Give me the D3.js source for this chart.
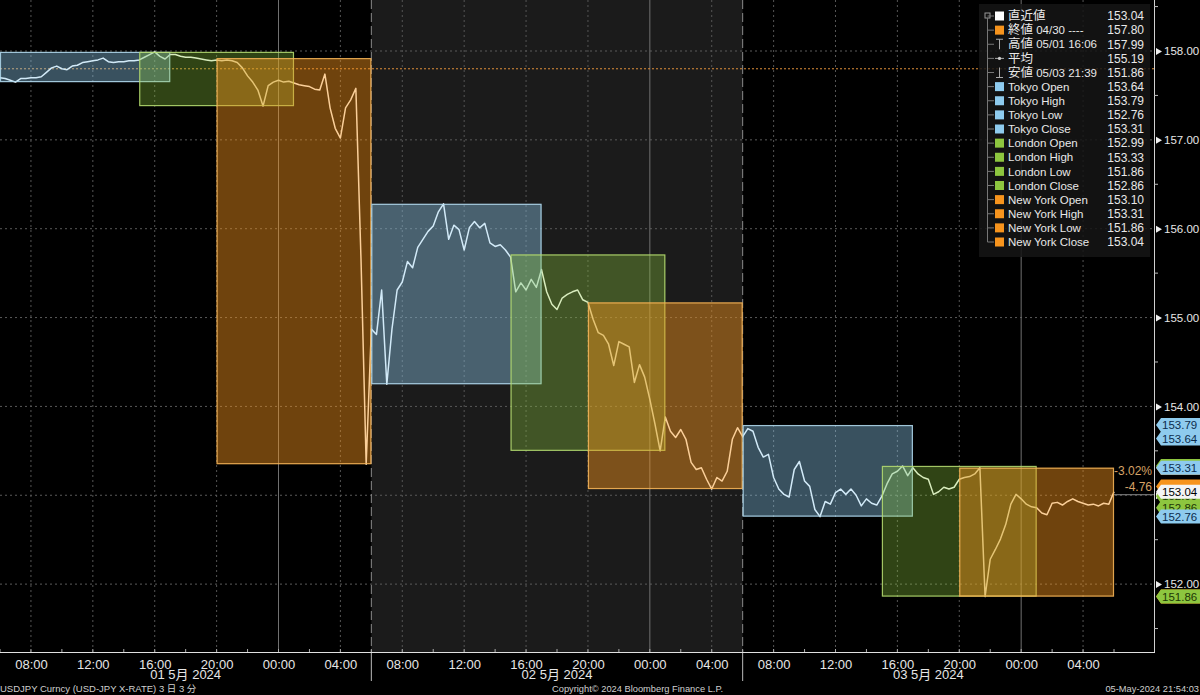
<!DOCTYPE html>
<html><head><meta charset="utf-8">
<script src="https://cdn.jsdelivr.net/npm/d3@7"></script>
<style>
html,body{margin:0;padding:0;background:#000;}
svg{display:block;}
text{font-family:"Liberation Sans",Arial,"Noto Sans CJK JP",sans-serif;}
</style></head><body>
<svg id="c" width="1200" height="695"></svg>
<script>
// ---------------- DATA ----------------
const startTime = Date.UTC(2024, 4, 1, 6, 0);   // 01 May 2024 06:00 (Tokyo)
const stepMinutes = 20;
const prices = [
157.70,157.69,157.67,157.65,157.69,157.69,157.70,157.70,157.71,157.76,
157.81,157.83,157.80,157.79,157.83,157.84,157.87,157.88,157.89,157.90,
157.92,157.88,157.87,157.88,157.88,157.89,157.89,157.90,157.93,157.96,
157.99,157.94,157.91,157.96,157.96,157.94,157.93,157.93,157.92,157.91,
157.90,157.89,157.90,157.89,157.90,157.89,157.87,157.81,157.72,157.65,
157.56,157.38,157.61,157.65,157.67,157.65,157.66,157.64,157.62,157.61,
157.60,157.57,157.56,157.74,157.36,157.13,157.02,157.36,157.45,157.58,
155.65,153.35,
154.87,154.81,155.31,154.25,154.87,155.31,155.40,155.63,155.56,155.79,
155.88,155.97,156.03,156.19,156.28,155.88,156.04,155.99,155.76,156.01,
156.08,156.01,156.06,155.84,155.80,155.82,155.76,155.68,155.29,155.39,
155.31,155.43,155.34,155.54,155.29,155.15,155.09,155.22,155.26,155.29,
155.31,155.20,155.17,154.98,154.83,154.80,154.70,154.46,154.73,154.70,
154.67,154.27,154.47,154.33,154.08,153.80,153.50,153.88,153.72,153.65,
153.74,153.63,153.37,153.29,153.31,153.18,153.07,153.20,153.16,153.27,
153.63,153.76,
153.66,153.75,153.72,153.54,153.43,153.46,153.20,153.07,153.01,152.98,
153.29,153.38,153.16,153.10,152.84,152.76,152.93,152.90,153.03,153.07,
153.01,153.07,153.00,152.88,152.96,152.91,152.89,152.99,153.13,153.24,
153.27,153.33,153.22,153.31,153.24,153.20,153.18,153.01,153.04,153.09,
153.07,153.09,153.18,153.20,153.21,153.24,153.31,151.86,152.28,152.39,
152.51,152.67,152.90,153.01,152.96,152.90,152.87,152.86,152.80,152.78,
152.91,152.92,152.89,152.93,152.96,152.93,152.91,152.89,152.90,152.88,
152.91,152.90,153.04
];
const dayStarts = [Date.UTC(2024,4,1,6), Date.UTC(2024,4,2,6), Date.UTC(2024,4,3,6)];
const dayLabels = ["01 5月 2024", "02 5月 2024", "03 5月 2024"];
const sessionNames = ["Tokyo", "London", "New York"];
const sessionStartHour = [0, 9, 14];   // hours after 06:00 of the session day
const sessionEndHour   = [11, 19, 24];
const tokyoHigh  = [157.99, 156.28, 153.79];
const tokyoLow   = [157.65, 154.25, 152.76];
const londonHigh = [157.99, 155.71, 153.33];
const londonLow  = [157.38, 153.50, 151.86];
const nyHigh     = [157.92, 155.17, 153.31];
const nyLow      = [153.35, 153.07, 151.86];
const prevClose = 157.80;
const lastValue = 153.04;
const yMajorTicks = [152, 153, 154, 155, 156, 157, 158];
const yMinorTicks = [151.5, 152.5, 153.5, 154.5, 155.5, 156.5, 157.5, 158.5];
const legendLabels = ["直近値", "終値 04/30 ----", "高値 05/01 16:06", "平均", "安値 05/03 21:39",
  "Tokyo Open", "Tokyo High", "Tokyo Low", "Tokyo Close",
  "London Open", "London High", "London Low", "London Close",
  "New York Open", "New York High", "New York Low", "New York Close"];
const legendValues = [153.04, 157.80, 157.99, 155.19, 151.86,
  153.64, 153.79, 152.76, 153.31,
  152.99, 153.33, 151.86, 152.86,
  153.10, 153.31, 151.86, 153.04];
const legendKinds = ["last", "close", "high", "avg", "low",
  "tokyo", "tokyo", "tokyo", "tokyo", "london", "london", "london", "london", "ny", "ny", "ny", "ny"];
// flags drawn in this order; hidden ones (fully covered) carry no text
const flagValues = [153.10, 153.31, 153.33, 152.99, 152.86, 152.76, 153.64, 153.79, 153.31, 151.86, 151.86, 153.04];
const flagKinds  = ["ny", "ny", "london", "london", "london", "tokyo", "tokyo", "tokyo", "tokyo", "ny", "london", "last"];
const flagShowText = [false, false, false, true, true, true, true, true, true, false, true, true];
const changeLabels = ["-3.02%", "-4.76"];

// ---------------- STYLE ----------------
const C = {
  tokyo: {fill: "#8ecbee", stroke: "#b4dcf0", op: 0.40, text: "#0c2d4d"},
  london: {fill: "#8dc63f", stroke: "#b6dc72", op: 0.34, text: "#1d3806"},
  ny: {fill: "#f7941d", stroke: "#f5b55a", op: 0.45, text: "#3a2000"},
  last: {fill: "#f4f4f4", text: "#000"}
};
const svg = d3.select("#c");
const plotW = 1154, axisY = 652;
const x = d3.scaleUtc().domain([new Date(startTime), new Date(startTime + 72 * 3600e3)]).range([0, 1114]);
const y = d3.scaleLinear().domain([151.236, 158.574]).range([axisY, 0]);
const hour = 3600e3;

svg.append("rect").attr("width", 1200).attr("height", 695).attr("fill", "#000");

// day shading (day 2 grey)
svg.append("rect")
  .attr("x", x(new Date(dayStarts[1]))).attr("y", 0)
  .attr("width", x(new Date(dayStarts[2])) - x(new Date(dayStarts[1]))).attr("height", axisY)
  .attr("fill", "#1b1b1b");

// grid
const g = svg.append("g");
yMajorTicks.forEach(v => {
  g.append("line").attr("x1", 0).attr("x2", plotW).attr("y1", y(v)).attr("y2", y(v))
    .attr("stroke", "#5a5a5a").attr("stroke-dasharray", "2,3");
});
const fourH = x.ticks(d3.utcHour.every(4));
fourH.forEach(t => {
  const solid = t.getUTCHours() === 0;
  g.append("line").attr("x1", x(t)).attr("x2", x(t)).attr("y1", 0).attr("y2", axisY)
    .attr("stroke", solid ? "#707070" : "#555")
    .attr("stroke-dasharray", solid ? null : "2,3");
});
dayStarts.slice(1).forEach(d => {
  g.append("line").attr("x1", x(new Date(d))).attr("x2", x(new Date(d))).attr("y1", 0).attr("y2", axisY)
    .attr("stroke", "#8a8a8a").attr("stroke-dasharray", "9,4");
  g.append("line").attr("x1", x(new Date(d))).attr("x2", x(new Date(d))).attr("y1", axisY).attr("y2", 681)
    .attr("stroke", "#bbb");
});
// previous close line
g.append("line").attr("x1", 0).attr("x2", plotW).attr("y1", y(prevClose)).attr("y2", y(prevClose))
  .attr("stroke", "#e0903a").attr("stroke-dasharray", "2,2");

// price line (under the session boxes)
const pts = prices.map((v, i) => [new Date(startTime + i * stepMinutes * 60e3), v]);
svg.append("path").datum(pts)
  .attr("d", d3.line().x(d => x(d[0])).y(d => y(d[1])))
  .attr("fill", "none").attr("stroke", "#ffffff").attr("stroke-width", 1.5).attr("stroke-linejoin", "round");

// session boxes
const highs = [tokyoHigh, londonHigh, nyHigh], lows = [tokyoLow, londonLow, nyLow];
const keys = ["tokyo", "london", "ny"];
dayStarts.forEach((d, di) => {
  sessionNames.forEach((s, si) => {
    const c = C[keys[si]];
    const x0 = x(new Date(d + sessionStartHour[si] * hour)), x1 = x(new Date(d + sessionEndHour[si] * hour));
    const y0 = y(highs[si][di]), y1 = y(lows[si][di]);
    svg.append("rect").attr("x", x0).attr("y", y0).attr("width", x1 - x0).attr("height", y1 - y0)
      .attr("fill", c.fill).attr("fill-opacity", c.op);
    svg.append("rect").attr("x", x0 + 0.5).attr("y", y0 + 0.5).attr("width", x1 - x0 - 1).attr("height", y1 - y0 - 1)
      .attr("fill", "none").attr("stroke", c.stroke).attr("stroke-opacity", 0.85).attr("stroke-width", 1.2);
  });
});

// last value line to axis
svg.append("line").attr("x1", x(pts[pts.length - 1][0])).attr("x2", plotW)
  .attr("y1", y(lastValue) + 3).attr("y2", y(lastValue) + 3).attr("stroke", "#888");

// change labels
changeLabels.forEach((t, i) => {
  svg.append("text").attr("x", 1152).attr("y", y(lastValue) - 21 + i * 16).attr("dy", "0.35em")
    .attr("text-anchor", "end").attr("fill", "#d6a266").attr("font-size", 12).text(t);
});

// right axis
const ya = svg.append("g").attr("transform", `translate(${plotW},0)`)
  .call(d3.axisRight(y).tickValues(yMajorTicks).tickFormat(d3.format(".2f")).tickSize(0).tickPadding(10));
ya.select(".domain").remove();
ya.selectAll("text").attr("fill", "#e6e6e6").attr("font-size", 11.5).attr("font-family", "Liberation Sans, Arial");
ya.selectAll(".tick").append("path").attr("d", "M2,-3.5L8,0L2,3.5Z").attr("fill", "#eee");
svg.append("line").attr("x1", plotW + 0.5).attr("x2", plotW + 0.5).attr("y1", 0).attr("y2", axisY).attr("stroke", "#d0d0d0");
yMinorTicks.forEach(v => {
  svg.append("line").attr("x1", plotW).attr("x2", plotW + 4).attr("y1", y(v)).attr("y2", y(v)).attr("stroke", "#bbb");
});

// flags
flagValues.forEach((v, i) => {
  const c = C[flagKinds[i]];
  const yy = y(v);
  svg.append("path")
    .attr("d", `M${plotW + 2},${yy}L${plotW + 7},${yy - 7}L1200,${yy - 7}L1200,${yy + 7}L${plotW + 7},${yy + 7}Z`)
    .attr("fill", c.fill);
  if (flagShowText[i]) {
    svg.append("text").attr("x", plotW + 8).attr("y", yy).attr("dy", "0.36em")
      .attr("fill", c.text).attr("font-size", 11.5).text(d3.format(".2f")(v));
  }
});

// bottom axis
svg.append("line").attr("x1", 0).attr("x2", plotW + 1).attr("y1", axisY + 0.5).attr("y2", axisY + 0.5).attr("stroke", "#e0e0e0");
x.ticks(d3.utcHour.every(2)).forEach(t => {
  svg.append("line").attr("x1", x(t)).attr("x2", x(t)).attr("y1", axisY - 3).attr("y2", axisY)
    .attr("stroke", "#aaa");
});
const xa = svg.append("g").attr("transform", `translate(0,${axisY})`)
  .call(d3.axisBottom(x).ticks(d3.utcHour.every(4)).tickFormat(d3.utcFormat("%H:%M")).tickSize(0).tickPadding(8));
xa.select(".domain").remove();
xa.selectAll("text").attr("fill", "#e6e6e6").attr("font-size", 13).attr("font-family", "Liberation Sans, Arial");
dayStarts.forEach((d, i) => {
  svg.append("text").attr("x", x(new Date(d + 12 * hour))).attr("y", 679).attr("text-anchor", "middle")
    .attr("fill", "#e6e6e6").attr("font-size", 13).text(dayLabels[i]);
});

// footer
const mono = "Liberation Mono, DejaVu Sans Mono, Noto Sans CJK JP, monospace";
svg.append("text").attr("x", 0).attr("y", 692).attr("font-family", mono).attr("font-size", 9.5)
  .attr("fill", "#cfcfcf").text("USDJPY Curncy (USD-JPY X-RATE) 3 日 3 分");
svg.append("text").attr("x", 552).attr("y", 692).attr("font-family", mono).attr("font-size", 9.3)
  .attr("fill", "#cfcfcf").text("Copyright© 2024 Bloomberg Finance L.P.");
svg.append("text").attr("x", 1199).attr("y", 692).attr("text-anchor", "end").attr("font-family", mono).attr("font-size", 9.3)
  .attr("fill", "#cfcfcf").text("05-May-2024 21:54:03");

// legend
const lg = svg.append("g");
lg.append("rect").attr("x", 979).attr("y", 4).attr("width", 171).attr("height", 253)
  .attr("fill", "#151515").attr("fill-opacity", 0.85);
const ly = i => 16 + i * 14.125;
lg.append("rect").attr("x", 985).attr("y", 13).attr("width", 5).attr("height", 5).attr("fill", "none").attr("stroke", "#999");
lg.append("line").attr("x1", 987.5).attr("x2", 987.5).attr("y1", 18).attr("y2", ly(16)).attr("stroke", "#777");
legendLabels.forEach((lab, i) => {
  const yy = ly(i), k = legendKinds[i];
  lg.append("line").attr("x1", 987.5).attr("x2", 994).attr("y1", yy).attr("y2", yy).attr("stroke", "#777");
  if (k === "last" || k === "close" || ["tokyo", "london", "ny"].includes(k)) {
    const col = k === "last" ? "#ffffff" : k === "close" ? "#f7941d" : C[k].fill;
    lg.append("rect").attr("x", 995).attr("y", yy - 4.5).attr("width", 9).attr("height", 9).attr("fill", col);
  } else if (k === "high") {
    lg.append("path").attr("d", `M996,${yy - 5}H1003M999.5,${yy - 5}V${yy + 5}`).attr("stroke", "#aaa").attr("fill", "none");
  } else if (k === "low") {
    lg.append("path").attr("d", `M996,${yy + 5}H1003M999.5,${yy - 5}V${yy + 5}`).attr("stroke", "#aaa").attr("fill", "none");
  } else if (k === "avg") {
    lg.append("path").attr("d", `M995,${yy}H1004`).attr("stroke", "#aaa");
    lg.append("circle").attr("cx", 999.5).attr("cy", yy).attr("r", 1.6).attr("fill", "#ccc");
  }
  const t = lg.append("text").attr("x", 1008).attr("y", yy).attr("dy", "0.36em").attr("fill", "#e8e8e8").attr("font-size", 11.5);
  const m = lab.match(/^([^\x00-\x7F]+)(.*)$/);
  if (m) {
    t.append("tspan").attr("font-family", "Noto Sans CJK JP").attr("font-size", 12.5).text(m[1]);
    t.append("tspan").text(m[2]);
  } else t.text(lab);
  lg.append("text").attr("x", 1144).attr("y", yy).attr("dy", "0.36em").attr("text-anchor", "end")
    .attr("fill", "#e8e8e8").attr("font-size", 12).text(d3.format(".2f")(legendValues[i]));
});
</script>
</body></html>
